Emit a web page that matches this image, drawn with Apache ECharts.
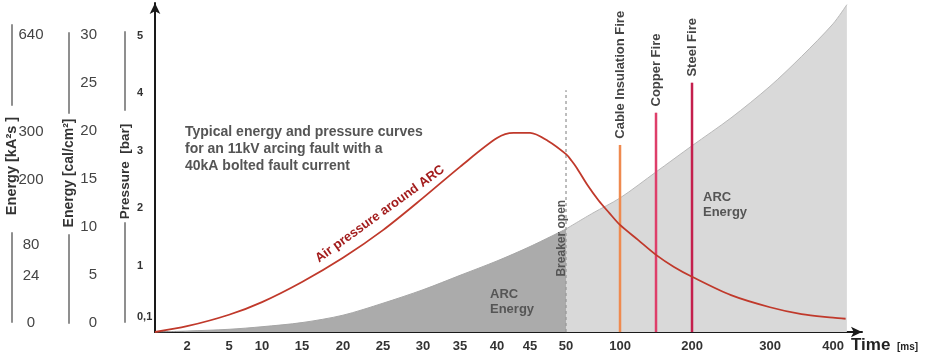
<!DOCTYPE html>
<html><head><meta charset="utf-8">
<script src="https://cdn.jsdelivr.net/npm/echarts@6/dist/echarts.min.js"></script>
<style>html,body{margin:0;padding:0;background:#fff}#c{width:926px;height:355px}</style>
</head><body><div id="c"></div>
<script>
// ---- Time axis (schematic, non-linear scale) ----
const timeTicks = [2, 5, 10, 15, 20, 25, 30, 35, 40, 45, 50, 100, 200, 300, 400];
const scaleKnotTimes = [0, 2, 5, 10, 15, 20, 25, 30, 35, 40, 45, 50, 100, 200, 300, 400];
const scaleKnotUnits = [0, 32, 74, 107, 147, 188, 228, 268, 305, 342, 375, 411, 465, 537, 615, 678];
const timeAxisEnd = 446;

// ---- Air pressure around ARC [bar] ----
const pressureTimes  = [0, 2, 5, 10, 15, 20, 25, 30, 35, 40, 42.5, 45, 47.5, 50, 55, 60, 70, 80, 90, 100, 125, 150, 175, 200, 250, 300, 350, 400, 420];
const pressureValues = [0, 0.10, 0.30, 0.52, 0.87, 1.29, 1.77, 2.33, 2.87, 3.37, 3.46, 3.46, 3.32, 3.09, 2.98, 2.85, 2.55, 2.29, 2.07, 1.86, 1.60, 1.34, 1.13, 0.96, 0.64, 0.43, 0.31, 0.25, 0.23];

// ---- ARC energy [cal/cm2] ----
const energyBeforeTimes  = [0, 2, 5, 10, 15, 20, 25, 30, 35, 40, 45, 50];
const energyBeforeValues = [0, 0.10, 0.28, 0.55, 0.98, 1.75, 3.0, 4.4, 5.9, 7.4, 8.9, 10.73];
const energyAfterTimes   = [50, 75, 100, 150, 200, 250, 300, 350, 400, 422];
const energyAfterValues  = [10.73, 12.4, 13.96, 16.67, 19.4, 22.3, 25.6, 28.7, 32.1, 34.1];

// ---- Events (vertical markers) ----
const eventNames = ['Breaker open', 'Cable Insulation Fire', 'Copper Fire', 'Steel Fire'];
const eventTimes = [50, 100, 150, 200];
const eventTops  = [4.2, 3.25, 3.81, 4.33];   // bar
const breakerLabelLevel = 1.63;              // bar

// ---- Left reference scales ----
const calTicks = [0, 5, 10, 15, 20, 25, 30];
const kA2sTicks = [0, 8, 24, 80, 200, 300, 640];
const kA2sCalEquivalent = [0, 1.46, 4.9, 8.12, 14.9, 19.9, 30];
const pressureTicks = [0.1, 1, 2, 3, 4, 5];
const pressureTickText = ['0,1', '1', '2', '3', '4', '5'];

const FONT = '"Liberation Sans", Arial, sans-serif';
const NARROW = '"Liberation Sans Narrow", "Arial Narrow", "Liberation Sans", sans-serif';

function toUnit(t) {
  const K = scaleKnotTimes, U = scaleKnotUnits;
  let i = 0;
  while (i < K.length - 2 && t > K[i + 1]) i++;
  return U[i] + (t - K[i]) * (U[i + 1] - U[i]) / (K[i + 1] - K[i]);
}
function lookup(values, texts, v) {
  for (let i = 0; i < values.length; i++) if (Math.abs(values[i] - v) < 1e-6) return String(texts[i]);
  return '';
}
const tickUnits = timeTicks.map(toUnit);

const chart = echarts.init(document.getElementById('c'), null, { renderer: 'canvas', width: 926, height: 355 });

const baseGrid = { containLabel: false, outerBoundsMode: 'none' };
const grids = [
  Object.assign({ left: 155, right: 64, top: 3, bottom: 23 }, baseGrid),
  Object.assign({ left: 12, width: 1, top: 25, bottom: 32 }, baseGrid),
  Object.assign({ left: 69, width: 1, top: 33, bottom: 32 }, baseGrid),
  Object.assign({ left: 125, width: 1, top: 32, bottom: 32 }, baseGrid)
];
// broken gray rule lines of the three reference scales: [x, yTop, yBottom]
const sideRuleLayout = [[12, 25, 105], [12, 233, 322], [69, 33, 113], [69, 235, 323], [125, 32, 110], [125, 223, 322]];

const hiddenX = (g) => ({ gridIndex: g, type: 'value', min: 0, max: 1, show: false });

const sideName = (size, pad) => ({
  fontFamily: FONT, fontWeight: 'bold', fontSize: size, color: '#333',
  align: 'center', verticalAlign: 'middle', padding: pad
});
const sideLabelCommon = { inside: true, hideOverlap: false, showMinLabel: true, showMaxLabel: true };

function eventSeries(i, color, width, type) {
  const u = toUnit(eventTimes[i]);
  const data = [[u, 0]];
  if (i === 0) {
    data.push({ value: [u, breakerLabelLevel], label: {
      show: true, formatter: eventNames[i], position: 'left', distance: 4, rotate: 90,
      align: 'center', verticalAlign: 'middle', color: '#555', fontWeight: 'bold', fontSize: 12, fontFamily: FONT } });
    data.push([u, eventTops[i]]);
  } else {
    data.push({ value: [u, eventTops[i]], label: {
      show: true, formatter: eventNames[i], position: 'top', distance: 6, rotate: 90,
      align: 'left', verticalAlign: 'middle', color: '#444', fontWeight: 'bold', fontSize: 13, fontFamily: FONT } });
  }
  return {
    type: 'line', name: eventNames[i], xAxisIndex: 0, yAxisIndex: 0, data,
    symbol: 'circle', symbolSize: 0.5, showSymbol: true, silent: true,
    itemStyle: { color }, lineStyle: { color, width, type }, z: 3
  };
}

const xAxes = [
  {
    gridIndex: 0, type: 'value', min: 0, max: toUnit(timeAxisEnd),
    axisLine: { show: true, lineStyle: { color: '#1a1a1a', width: 2 }, symbol: ['none', 'arrow'], symbolSize: [8, 11] },
    axisTick: { show: false }, splitLine: { show: false },
    axisLabel: {
      customValues: tickUnits, margin: 8, hideOverlap: false,
      formatter: (v) => lookup(tickUnits, timeTicks, v),
      fontFamily: NARROW, fontWeight: 'bold', fontSize: 13, color: '#333'
    },
    name: '{t|Time}  {u|[ms]}', nameLocation: 'end', nameGap: -11, nameMoveOverlap: false,
    nameTextStyle: {
      align: 'left', verticalAlign: 'top', padding: [5, 0, 0, 0],
      rich: {
        t: { fontFamily: FONT, fontWeight: 'bold', fontSize: 17, color: '#222' },
        u: { fontFamily: FONT, fontWeight: 'bold', fontSize: 10, color: '#222', padding: [4, 0, 0, 0] }
      }
    }
  },
  hiddenX(1), hiddenX(2), hiddenX(3)
];

const yAxes = [
  { // main pressure axis
    gridIndex: 0, type: 'value', min: 0, max: 5.717,
    axisLine: { show: true, lineStyle: { color: '#1a1a1a', width: 2 }, symbol: ['none', 'arrow'], symbolSize: [8, 11] },
    axisTick: { show: false }, axisLabel: { show: false }, splitLine: { show: false }
  },
  { // energy axis (hidden, cal/cm2)
    gridIndex: 0, type: 'value', min: 0, max: 34.27, show: false, splitLine: { show: false }
  },
  { // Energy [kA2s]
    gridIndex: 1, type: 'value', min: 0, max: 31.04, position: 'left',
    axisLine: { show: false }, axisTick: { show: false }, splitLine: { show: false },
    axisLabel: Object.assign({
      customValues: kA2sCalEquivalent, align: 'center', margin: 19,
      formatter: (v) => lookup(kA2sCalEquivalent, kA2sTicks, v),
      fontFamily: FONT, fontSize: 15, color: '#444'
    }, sideLabelCommon),
    name: 'Energy [kA²s ]', nameLocation: 'middle', nameRotate: 90, nameGap: 0, nameMoveOverlap: false,
    nameTextStyle: sideName(14.5, [1, 4, 1, 20])
  },
  { // Energy [cal/cm2]
    gridIndex: 2, type: 'value', min: 0, max: 30.21, position: 'left',
    axisLine: { show: false }, axisTick: { show: false }, splitLine: { show: false },
    axisLabel: Object.assign({
      customValues: calTicks, align: 'right', margin: 28,
      fontFamily: FONT, fontSize: 15, color: '#444'
    }, sideLabelCommon),
    name: 'Energy [cal/cm²]', nameLocation: 'middle', nameRotate: 90, nameGap: 0, nameMoveOverlap: false,
    nameTextStyle: sideName(14, [1, 2, 1, 12])
  },
  { // Pressure [bar]
    gridIndex: 3, type: 'value', min: 0, max: 5.065, position: 'left',
    axisLine: { show: false }, axisTick: { show: false }, splitLine: { show: false },
    axisLabel: Object.assign({
      customValues: pressureTicks, align: 'left', margin: 12,
      formatter: (v) => lookup(pressureTicks, pressureTickText, v),
      fontFamily: FONT, fontWeight: 'bold', fontSize: 11, color: '#333'
    }, sideLabelCommon),
    name: 'Pressure  [bar]', nameLocation: 'middle', nameRotate: 90, nameGap: 0, nameMoveOverlap: false,
    nameTextStyle: sideName(13.5, [1, 2, 1, 14])
  }
];

// rule-line segments as extra axis-only grids
sideRuleLayout.forEach(([x, y1, y2]) => {
  const g = grids.length;
  grids.push(Object.assign({ left: x, width: 1, top: y1, height: y2 - y1 }, baseGrid));
  xAxes.push(hiddenX(g));
  yAxes.push({
    gridIndex: g, type: 'value', min: 0, max: 1, position: 'left',
    axisLine: { show: true, lineStyle: { color: '#8f8f8f', width: 2 } },
    axisTick: { show: false }, axisLabel: { show: false }, splitLine: { show: false }
  });
});

const option = {
  animation: false,
  backgroundColor: '#fff',
  grid: grids,
  xAxis: xAxes,
  yAxis: yAxes,
  series: [
    {
      type: 'line', name: 'ARC Energy (until breaker opens)', xAxisIndex: 0, yAxisIndex: 1,
      data: energyBeforeTimes.map((t, i) => [toUnit(t), energyBeforeValues[i]]),
      smooth: 0.3, symbol: 'none', silent: true,
      lineStyle: { color: '#a6a6a6', width: 1 },
      areaStyle: { color: '#ababab', opacity: 1, origin: 'start' }, z: 1
    },
    {
      type: 'line', name: 'ARC Energy (after)', xAxisIndex: 0, yAxisIndex: 1,
      data: energyAfterTimes.map((t, i) => [toUnit(t), energyAfterValues[i]]),
      smooth: 0.3, symbol: 'none', silent: true,
      lineStyle: { color: '#b9b9b9', width: 1 },
      areaStyle: { color: '#d9d9d9', opacity: 1, origin: 'start' }, z: 1
    },
    eventSeries(0, '#9a9a9a', 1.3, [3, 3]),
    eventSeries(1, '#ef8a4f', 2.5, 'solid'),
    eventSeries(2, '#de3f6a', 2.5, 'solid'),
    eventSeries(3, '#c41f4d', 2.5, 'solid'),
    {
      type: 'line', name: 'Air pressure around ARC', xAxisIndex: 0, yAxisIndex: 0,
      data: pressureTimes.map((t, i) => [toUnit(t), pressureValues[i]]),
      smooth: 0.3, symbol: 'none', silent: true,
      lineStyle: { color: '#c0392b', width: 1.8 }, z: 4
    }
  ],
  graphic: [
    { type: 'text', x: 185, y: 124, z: 10, style: {
      text: 'Typical energy and pressure curves\nfor an 11kV arcing fault with a\n40kA bolted fault current',
      fill: '#555', font: 'bold 14px "Liberation Sans", Arial, sans-serif', lineHeight: 17, verticalAlign: 'top' } },
    { type: 'text', x: 380, y: 214, rotation: 36 * Math.PI / 180, z: 10, style: {
      text: 'Air pressure around ARC', fill: '#a31d1d',
      font: 'bold 13px "Liberation Sans", Arial, sans-serif', align: 'center', verticalAlign: 'middle' } },
    { type: 'text', x: 490, y: 287, z: 10, style: {
      text: 'ARC\nEnergy', fill: '#555', font: 'bold 13px "Liberation Sans", Arial, sans-serif', lineHeight: 15, verticalAlign: 'top' } },
    { type: 'text', x: 703, y: 190, z: 10, style: {
      text: 'ARC\nEnergy', fill: '#555', font: 'bold 13px "Liberation Sans", Arial, sans-serif', lineHeight: 15, verticalAlign: 'top' } }
  ]
};
chart.setOption(option);
</script>
</body></html>
